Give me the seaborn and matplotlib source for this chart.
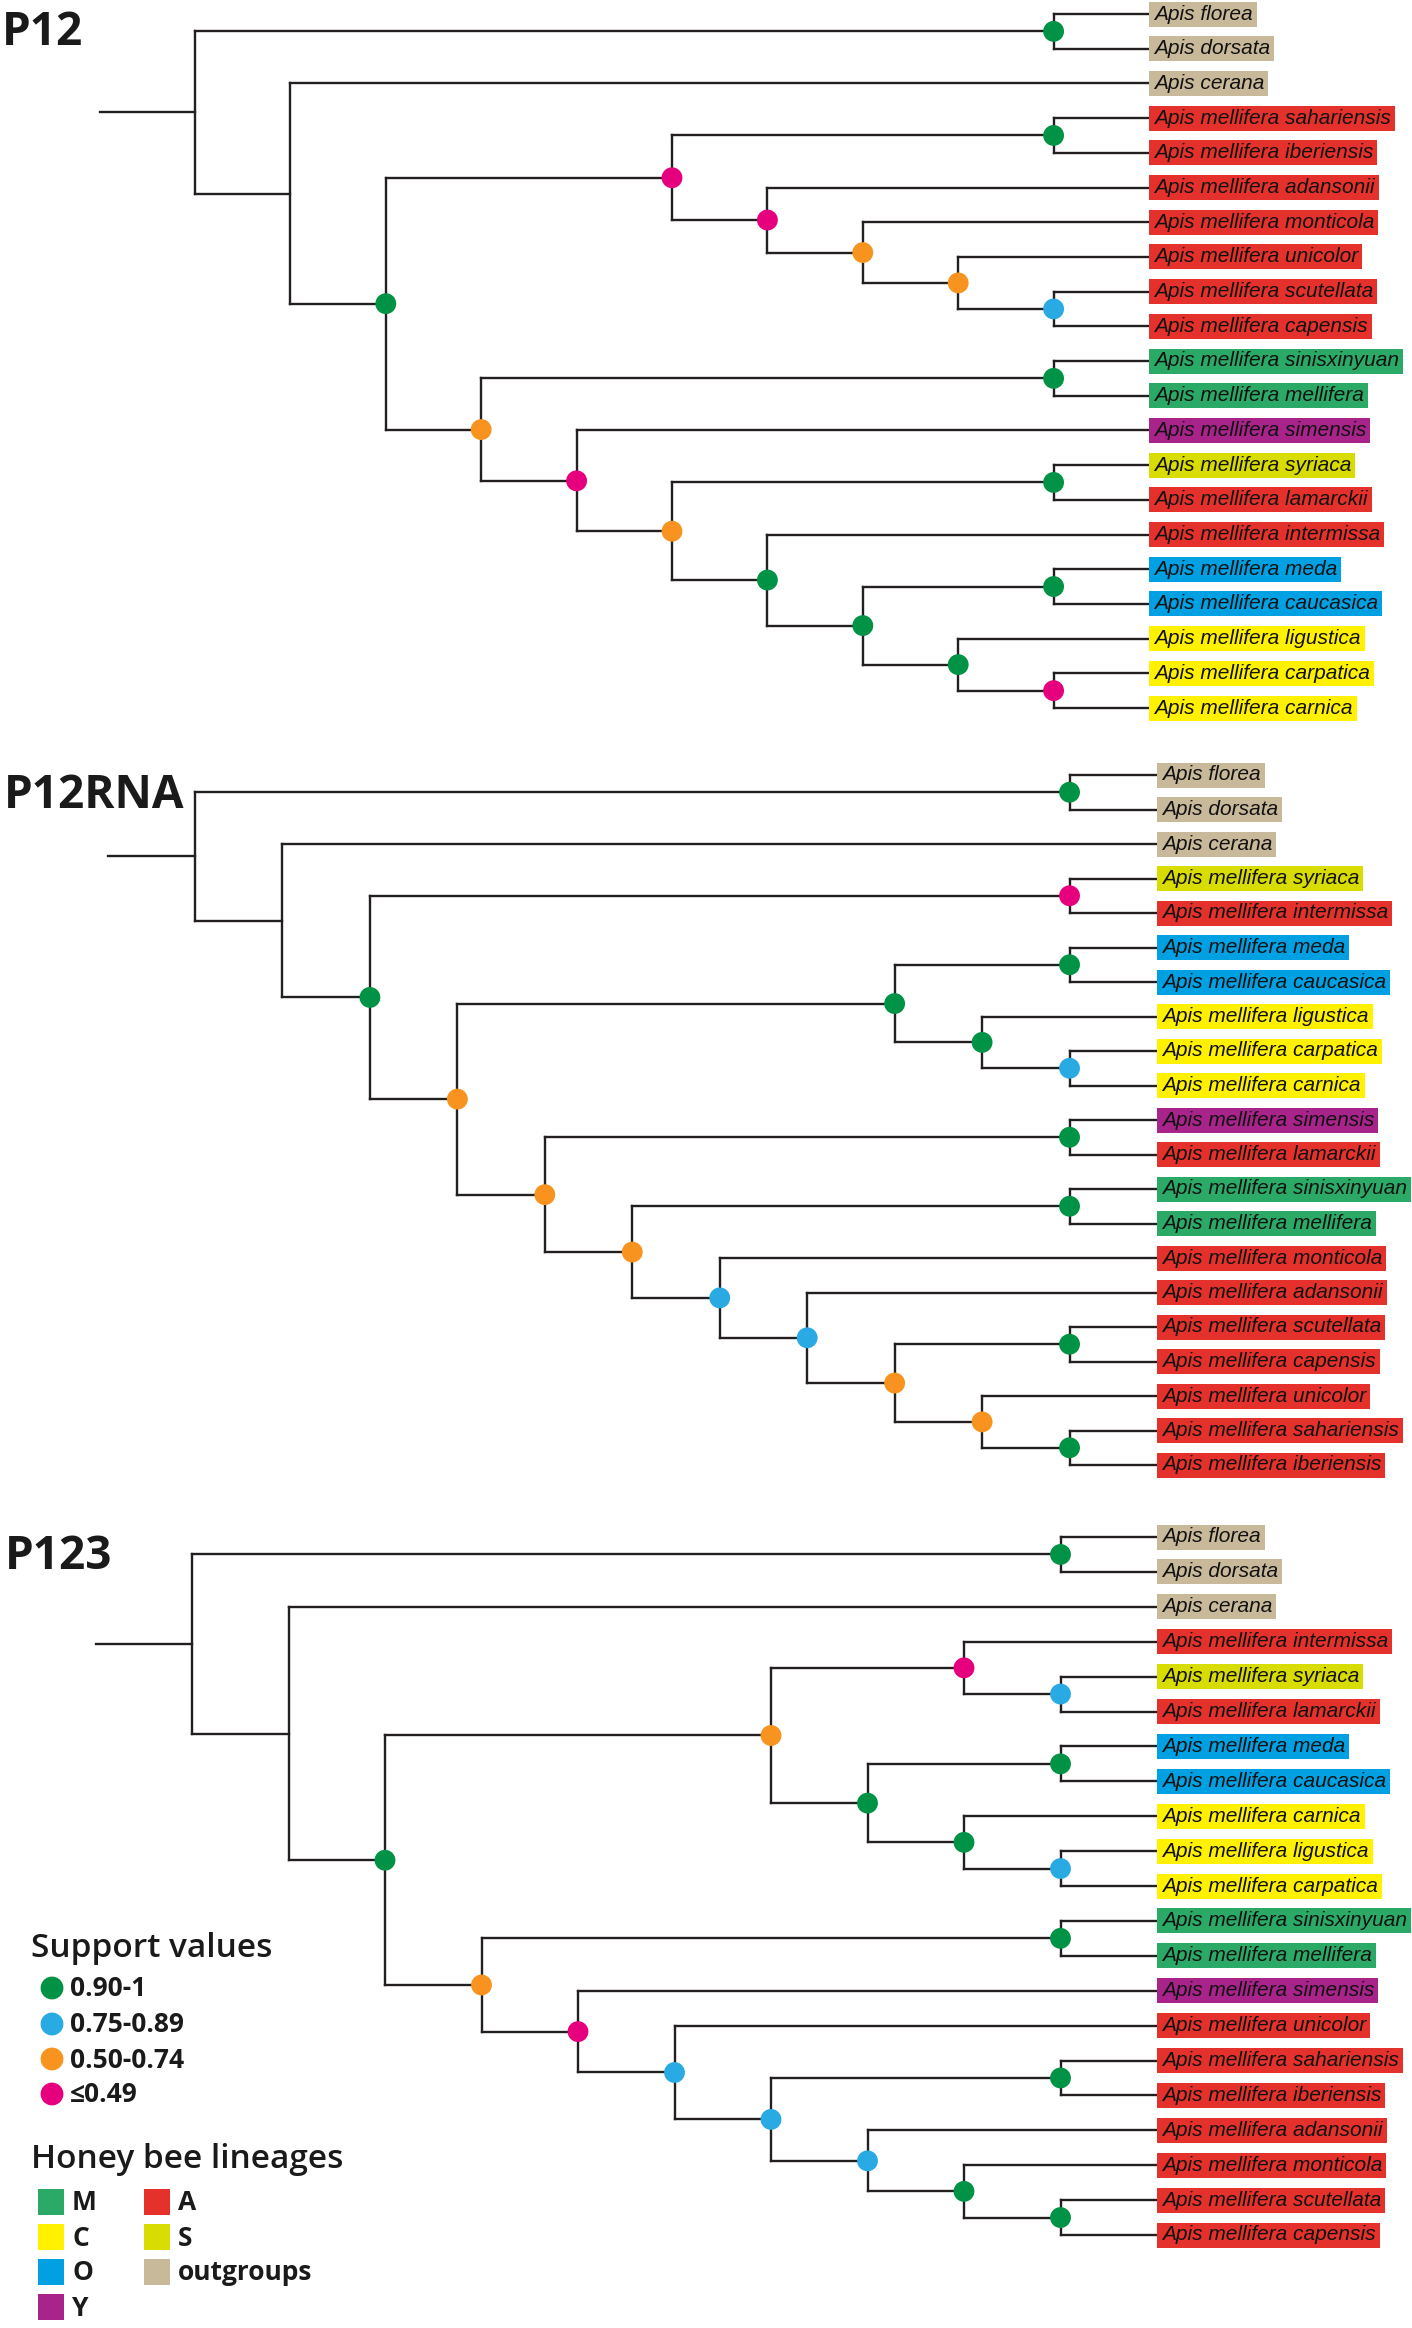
import matplotlib
matplotlib.use("Agg")
import matplotlib.pyplot as plt
from matplotlib.collections import LineCollection
from matplotlib.patches import Rectangle
from matplotlib import font_manager
import pandas as pd
import seaborn as sns

# ---- data -----------------------------------------------------------
taxa = ['florea', 'dorsata', 'cerana', 'sahariensis', 'iberiensis', 'adansonii',
        'monticola', 'unicolor', 'scutellata', 'capensis', 'sinisxinyuan',
        'mellifera', 'simensis', 'syriaca', 'lamarckii', 'intermissa', 'meda',
        'caucasica', 'ligustica', 'carpatica', 'carnica']
taxon_labels = ['Apis florea', 'Apis dorsata', 'Apis cerana'] + \
               ['Apis mellifera ' + t for t in taxa[3:]]
taxon_lineage = ['outgroups', 'outgroups', 'outgroups', 'A', 'A', 'A', 'A', 'A',
                 'A', 'A', 'M', 'M', 'Y', 'S', 'A', 'A', 'O', 'O', 'C', 'C', 'C']

# topologies, internal labels = support class (G, B, O, P)
nwk_p12 = ("((florea,dorsata)G,(cerana,(((sahariensis,iberiensis)G,(adansonii,"
           "(monticola,(unicolor,(scutellata,capensis)B)O)O)P)P,((sinisxinyuan,"
           "mellifera)G,(simensis,((syriaca,lamarckii)G,(intermissa,((meda,"
           "caucasica)G,(ligustica,(carpatica,carnica)P)G)G)G)O)P)O)G));")
nwk_p12rna = ("((florea,dorsata)G,(cerana,((syriaca,intermissa)P,(((meda,caucasica)G,"
              "(ligustica,(carpatica,carnica)B)G)G,((simensis,lamarckii)G,"
              "((sinisxinyuan,mellifera)G,(monticola,(adansonii,((scutellata,"
              "capensis)G,(unicolor,(sahariensis,iberiensis)G)O)O)B)B)O)O)O)G));")
nwk_p123 = ("((florea,dorsata)G,(cerana,(((intermissa,(syriaca,lamarckii)B)P,"
            "((meda,caucasica)G,(carnica,(ligustica,carpatica)B)G)G)O,"
            "((sinisxinyuan,mellifera)G,(simensis,(unicolor,((sahariensis,"
            "iberiensis)G,(adansonii,(monticola,(scutellata,capensis)G)G)B)B)B)P)O)G));")

support_codes = ['G', 'B', 'O', 'P']
support_labels = ['0.90-1', '0.75-0.89', '0.50-0.74', '≤0.49']
support_colors = ['#009245', '#2AAAE2', '#F7931E', '#E6007E']

lineages = ['M', 'C', 'O', 'Y', 'A', 'S', 'outgroups']
lineage_colors = ['#2BAA67', '#FFF100', '#00A0E2', '#A8248A', '#E4312B',
                  '#D8DC00', '#C9B99B']

# ---- style ----------------------------------------------------------
sns.set_style("white")
names = {f.name for f in font_manager.fontManager.ttflist}
label_font = 'Liberation Sans Narrow' if 'Liberation Sans Narrow' in names else 'Liberation Sans'
label_size = 18 if label_font == 'Liberation Sans Narrow' else 15
plt.rcParams['font.family'] = ['Open Sans', 'DejaVu Sans']
LINE = '#231F20'


def parse_newick(s):
    pos = 0

    def read_name():
        nonlocal pos
        start = pos
        while s[pos] not in ',();':
            pos += 1
        return s[start:pos]

    def node():
        nonlocal pos
        if s[pos] == '(':
            pos += 1
            kids = [node()]
            while s[pos] == ',':
                pos += 1
                kids.append(node())
            pos += 1
            return {'kids': kids, 'sup': read_name()}
        return {'name': read_name()}

    return node()


def height(n):
    if 'kids' not in n:
        n['h'] = 0
    else:
        n['h'] = 1 + max(height(k) for k in n['kids'])
    return n['h']


def layout_tree(nwk, y0, dy, tip_x, root_x):
    root = parse_newick(nwk)
    step = (tip_x - root_x) / height(root)
    segs, dots, leaves = [], [], []

    def place(n):
        if 'kids' not in n:
            n['x'] = tip_x
            n['y'] = y0 + dy * len(leaves)
            leaves.append(n)
            return
        for k in n['kids']:
            place(k)
        kids = n['kids']
        n['x'] = tip_x - step * n['h']
        n['y'] = (kids[0]['y'] + kids[-1]['y']) / 2
        segs.append([(n['x'], kids[0]['y']), (n['x'], kids[-1]['y'])])
        for k in kids:
            segs.append([(n['x'], k['y']), (k['x'], k['y'])])
        if n['sup']:
            dots.append({'x': n['x'], 'y': n['y'], 'support': n['sup']})

    place(root)
    segs.append([(root['x'] - step, root['y']), (root['x'], root['y'])])
    return segs, dots, leaves


fig = plt.figure(figsize=(14.12, 23.28), dpi=100)
ax = fig.add_axes([0, 0, 1, 1])
ax.set_xlim(0, 1412)
ax.set_ylim(2328, 0)
ax.axis('off')

panels = [
    # title, newick, first leaf y, leaf step, tip x, root x, title x, title baseline
    ('P12', nwk_p12, 14, 34.7, 1149, 195, 2, 45),
    ('P12RNA', nwk_p12rna, 775, 34.5, 1157, 195, 4, 808),
    ('P123', nwk_p123, 1537, 34.9, 1157, 192, 5, 1569),
]

sup_pal = dict(zip(support_codes, support_colors))
lin_pal = dict(zip(lineages, lineage_colors))
all_dots = []
label_texts = []

for title, nwk, y0, dy, tip_x, root_x, tx, ty in panels:
    segs, dots, leaves = layout_tree(nwk, y0, dy, tip_x, root_x)
    ax.add_collection(LineCollection(segs, colors=LINE, linewidths=1.7,
                                     capstyle='projecting', zorder=1))
    all_dots += dots
    ax.text(tx, ty, title, fontsize=33, fontweight='bold', color='#1a1a1a',
            ha='left', va='baseline')
    for lf in leaves:
        i = taxa.index(lf['name'])
        t = ax.text(tip_x + 5, lf['y'], taxon_labels[i], fontsize=label_size,
                    family=label_font, fontstyle='italic', color='#111111',
                    ha='left', va='center', zorder=4)
        label_texts.append((t, tip_x, lf['y'], lin_pal[taxon_lineage[i]]))

dots_df = pd.DataFrame(all_dots)
sns.scatterplot(data=dots_df, x='x', y='y', hue='support', palette=sup_pal,
                s=225, linewidth=0, legend=False, ax=ax, zorder=3)

# coloured boxes behind leaf labels
fig.canvas.draw()
renderer = fig.canvas.get_renderer()
inv = ax.transData.inverted()
for t, x0, yc, col in label_texts:
    bb = t.get_window_extent(renderer)
    x1 = inv.transform((bb.x1, bb.y0))[0] + 4
    ax.add_patch(Rectangle((x0, yc - 12.5), x1 - x0, 25, facecolor=col,
                           edgecolor='none', zorder=2))

# ---- legend ---------------------------------------------------------
ax.text(31, 1957, 'Support values', fontsize=24, fontweight='semibold',
        color='#1a1a1a', va='baseline')
sup_y = [1988, 2024, 2059, 2094]
leg_df = pd.DataFrame({'x': [52] * 4, 'y': sup_y, 'support': support_codes})
sns.scatterplot(data=leg_df, x='x', y='y', hue='support', palette=sup_pal,
                s=270, linewidth=0, legend=False, ax=ax, zorder=3)
for y, lab in zip(sup_y, support_labels):
    ax.text(70, y + 1, lab, fontsize=19, fontweight='bold', color='#1a1a1a',
            va='center', family=['Open Sans', 'DejaVu Sans'])

ax.text(31, 2168, 'Honey bee lineages', fontsize=24, fontweight='semibold',
        color='#1a1a1a', va='baseline')
row_y = [2202, 2237, 2272, 2307]
for j, (lin, col) in enumerate(zip(lineages, lineage_colors)):
    cx = 38 if j < 4 else 144
    y = row_y[j % 4] if j < 4 else row_y[j - 4]
    ax.add_patch(Rectangle((cx, y - 13), 26, 26, facecolor=col, edgecolor='none'))
    ax.text(cx + 34, y + 1, lin, fontsize=19, fontweight='bold', color='#1a1a1a',
            va='center')

fig.savefig('out.png', dpi=100, facecolor='white')
